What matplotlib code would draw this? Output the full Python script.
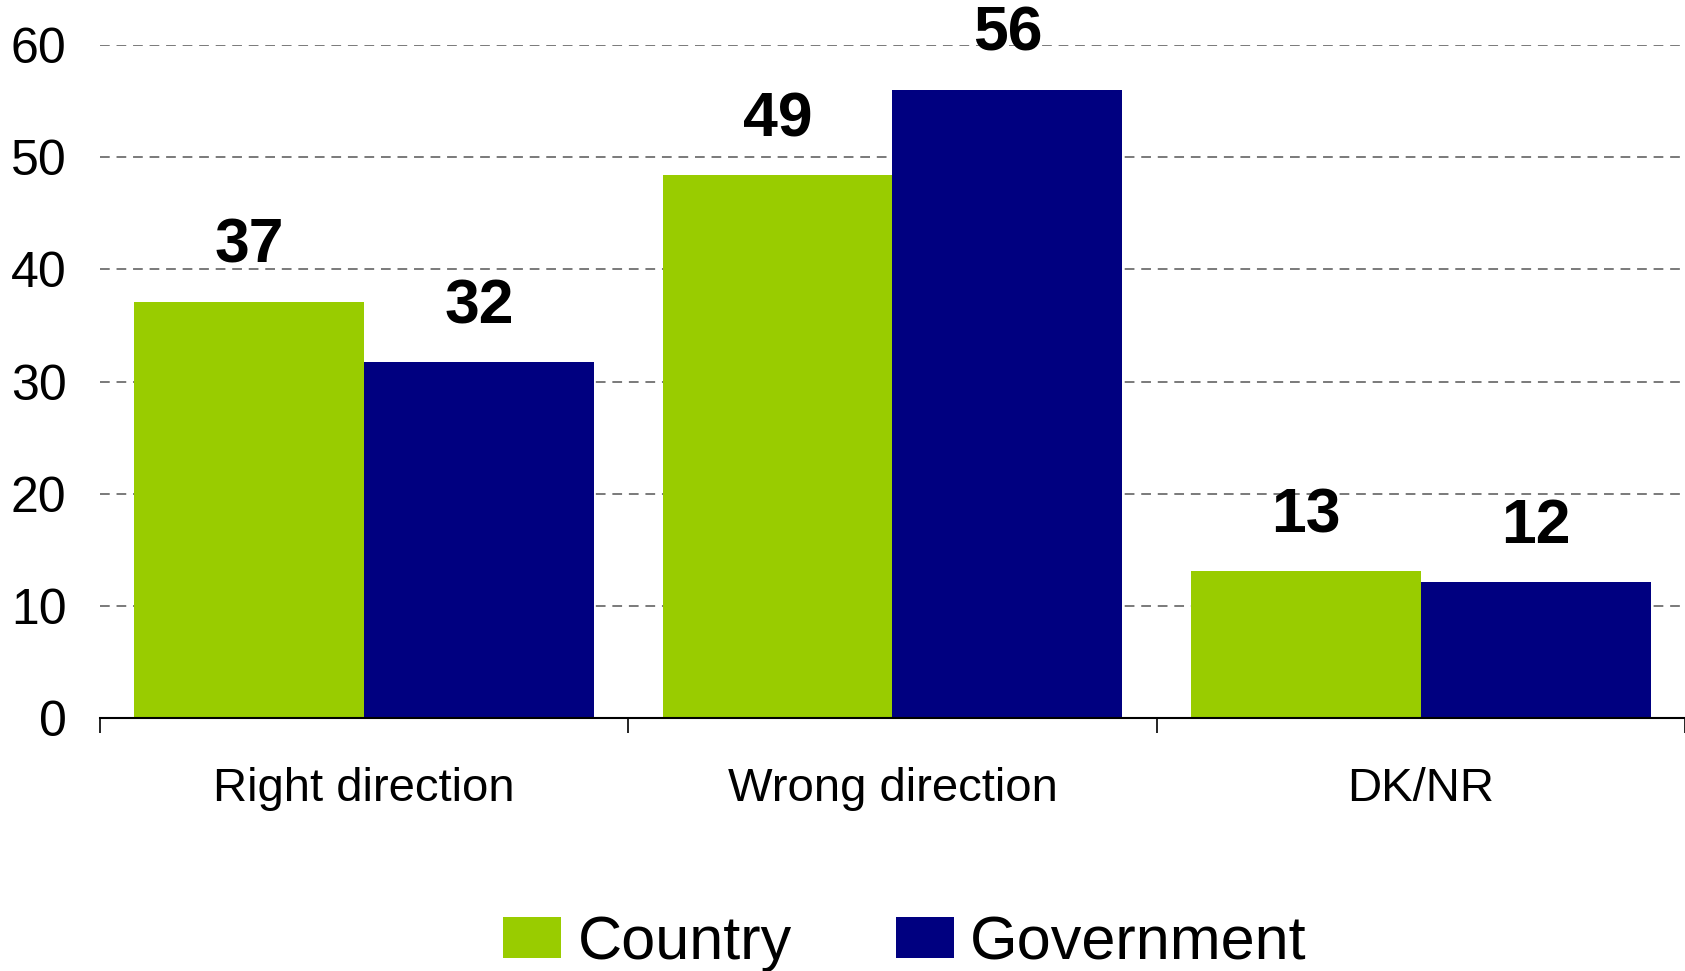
import matplotlib
matplotlib.use("Agg")
import matplotlib.pyplot as plt
import numpy as np

categories = ["Right direction", "Wrong direction", "DK/NR"]
series_names = ["Country", "Government"]
country = [37.1, 48.4, 13.1]
government = [31.7, 56.0, 12.1]
country_labels = ["37", "49", "13"]
government_labels = ["32", "56", "12"]
yticks = [0, 10, 20, 30, 40, 50, 60]

colors = ["#99CC00", "#000080"]

plt.rcParams['font.family'] = ['Liberation Sans', 'DejaVu Sans']

fig = plt.figure(figsize=(16.85, 9.71), dpi=100)
ax = fig.add_axes([0.0593, 0.2605, 0.9407, 0.6932])

x = np.arange(len(categories))
w = 0.435
b1 = ax.bar(x - w/2, country, width=w, color=colors[0], label=series_names[0], zorder=3)
b2 = ax.bar(x + w/2, government, width=w, color=colors[1], label=series_names[1], zorder=3)

for bars, labs in ((b1, country_labels), (b2, government_labels)):
    for r, lab in zip(bars, labs):
        ax.annotate(lab, (r.get_x() + r.get_width()/2, r.get_height()),
                    xytext=(0, 28), textcoords="offset points",
                    ha="center", va="baseline", fontsize=45, fontweight="bold",
                    color="black", zorder=5, annotation_clip=False)

ax.set_ylim(0, 60)
ax.set_xlim(-0.5, len(categories) - 0.5)
ax.set_yticks(yticks)
ax.set_yticklabels([str(t) for t in yticks], fontsize=36)
ax.tick_params(axis="y", length=0, pad=24)

ax.set_xticks(np.arange(len(categories) + 1) - 0.5)
ax.set_xticklabels([])
ax.set_xticks(x, minor=True)
ax.set_xticklabels(categories, minor=True, fontsize=34)
ax.tick_params(axis="x", which="major", length=11, width=1.2, direction="out")
ax.tick_params(axis="x", which="minor", length=0, pad=35)

ax.yaxis.grid(True, linestyle=(0, (5, 3.5)), color="#7a7a7a", linewidth=1.4, zorder=0)
ax.set_axisbelow(True)

for s in ("top", "right", "left"):
    ax.spines[s].set_visible(False)
ax.spines["bottom"].set_linewidth(1.5)
ax.spines["bottom"].set_zorder(4)

fig.legend(handles=[b1, b2], labels=series_names, loc="center",
           bbox_to_anchor=(0.537, 0.028), ncol=2, frameon=False,
           fontsize=44, handlelength=0.95, handleheight=0.65,
           handletextpad=0.27, columnspacing=1.7)

fig.savefig("out.png", dpi=100)
